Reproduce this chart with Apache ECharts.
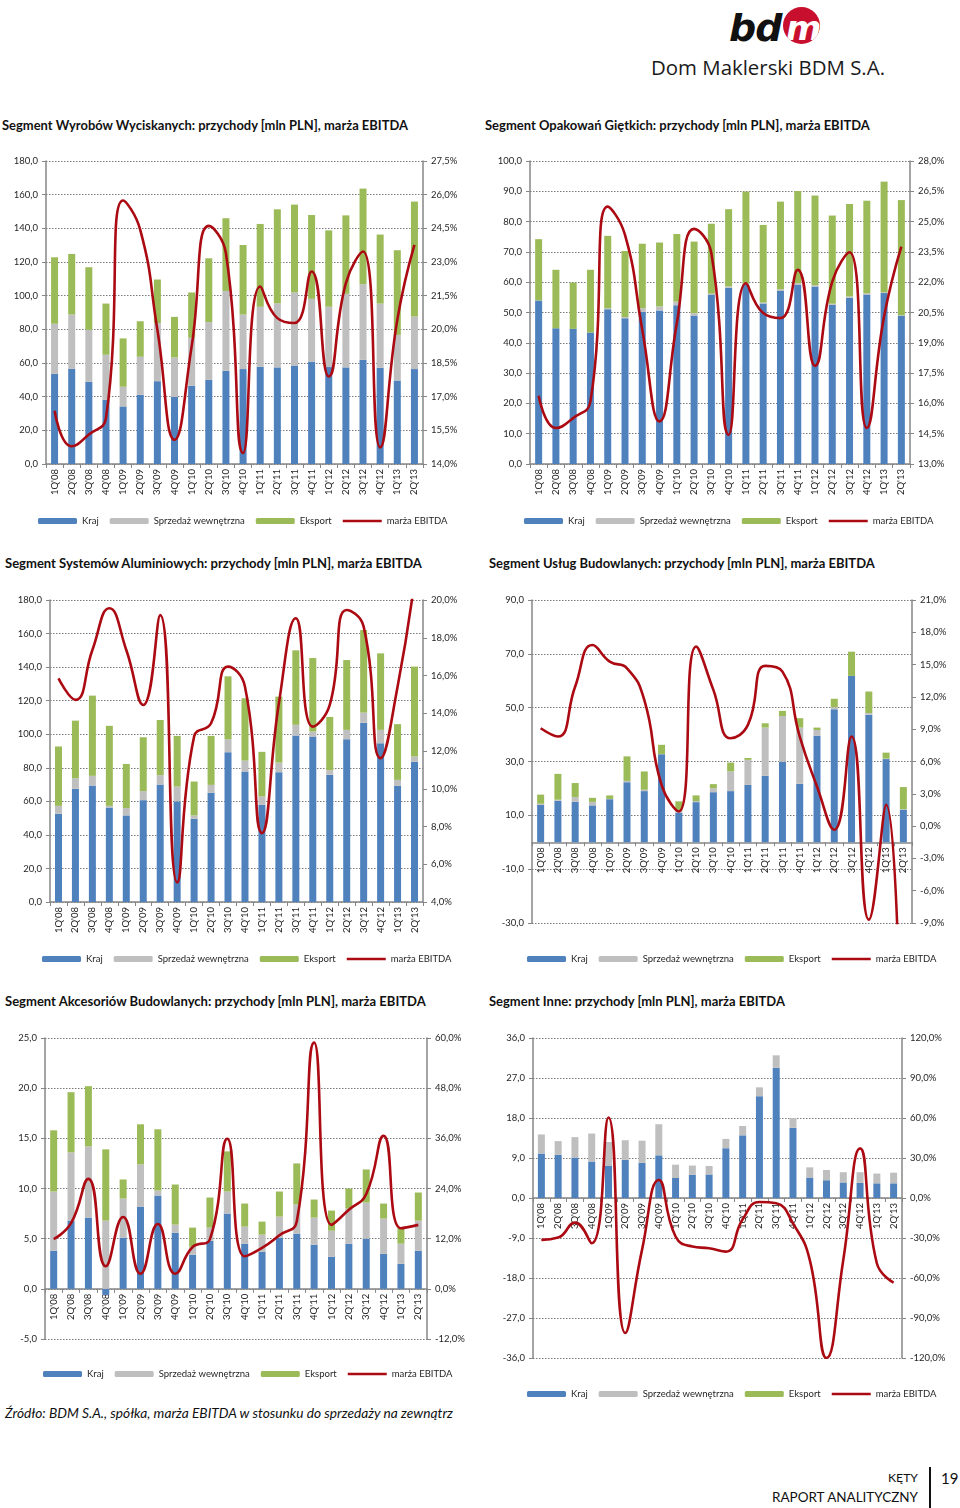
<!DOCTYPE html>
<html lang="pl"><head><meta charset="utf-8">
<title>BDM – segmenty</title>
<script src="https://cdn.jsdelivr.net/npm/echarts@6.0.0/dist/echarts.min.js"></script>
<style>
html,body{margin:0;padding:0;background:#fff;}
body{width:960px;height:1508px;position:relative;overflow:hidden;font-family:Lato,'Open Sans',sans-serif;color:#111;}
.abs{position:absolute;white-space:nowrap;}
.title{font-weight:bold;font-size:13px;line-height:16px;color:#111;}
.chart{position:absolute;}
</style></head><body>

<div class="abs" id="logoBD" style="left:729px;top:6px;font:italic bold 38px 'DejaVu Sans',sans-serif;line-height:44px;color:#111;letter-spacing:-1px">bd</div>
<div class="abs" style="left:783px;top:7px;width:37px;height:37px;border-radius:50%;background:#c8102e;overflow:hidden">
  <div class="abs" style="left:3px;top:3px;font:italic bold 34px 'DejaVu Sans',sans-serif;line-height:36px;color:#fff">m</div>
</div>
<div class="abs fit" data-w="234" style="left:651px;top:55px;font-size:21px;line-height:24px;color:#1a1a1a;font-family:'Open Sans',sans-serif">Dom Maklerski BDM S.A.</div>

<div class="abs title fit" data-w="406" style="left:2px;top:117px">Segment Wyrobów Wyciskanych: przychody [mln PLN], marża EBITDA</div>
<div class="abs title fit" data-w="385" style="left:485px;top:117px">Segment Opakowań Giętkich: przychody [mln PLN], marża EBITDA</div>
<div class="abs title fit" data-w="417" style="left:5px;top:555px">Segment Systemów Aluminiowych: przychody [mln PLN], marża EBITDA</div>
<div class="abs title fit" data-w="386" style="left:489px;top:555px">Segment Usług Budowlanych: przychody [mln PLN], marża EBITDA</div>
<div class="abs title fit" data-w="421" style="left:5px;top:993px">Segment Akcesoriów Budowlanych: przychody [mln PLN], marża EBITDA</div>
<div class="abs title fit" data-w="296" style="left:489px;top:993px">Segment Inne: przychody [mln PLN], marża EBITDA</div>

<div class="chart" id="c1" style="left:0px;top:150px;width:480px;height:385px"></div>
<div class="chart" id="c2" style="left:480px;top:150px;width:480px;height:385px"></div>
<div class="chart" id="c3" style="left:0px;top:590px;width:480px;height:385px"></div>
<div class="chart" id="c4" style="left:480px;top:590px;width:480px;height:385px"></div>
<div class="chart" id="c5" style="left:0px;top:1030px;width:480px;height:360px"></div>
<div class="chart" id="c6" style="left:480px;top:1030px;width:480px;height:380px"></div>

<div class="abs fit" data-w="448" style="left:5px;top:1405px;font-style:italic;font-size:13px;line-height:16px;color:#111">Źródło: BDM S.A., spółka, marża EBITDA w stosunku do sprzedaży na zewnątrz</div>

<div class="abs fitr" data-w="30" data-r="918" style="top:1469px;font-size:15px;line-height:18px;color:#111">KĘTY</div>
<div class="abs fitr" data-w="146" data-r="918" style="top:1488px;font-size:15px;line-height:18px;color:#111">RAPORT ANALITYCZNY</div>
<div class="abs" style="left:929px;top:1467px;width:1.5px;height:41px;background:#111"></div>
<div class="abs" style="left:941px;top:1469px;font-size:15px;line-height:18px;color:#111">19</div>

<script>
// ---------- DATA ----------
const categories = ["1Q'08","2Q'08","3Q'08","4Q'08","1Q'09","2Q'09","3Q'09","4Q'09","1Q'10","2Q'10","3Q'10","4Q'10","1Q'11","2Q'11","3Q'11","4Q'11","1Q'12","2Q'12","3Q'12","4Q'12","1Q'13","2Q'13"];
const legendNames = ["Kraj","Sprzedaż wewnętrzna","Eksport","marża EBITDA"];

// Segment Wyrobów Wyciskanych
const p1Kraj  = [53.6,56.6,48.9,38.2,34.2,41.1,49.2,39.8,46.5,50.0,55.4,56.4,57.8,57.4,58.5,60.7,57.6,57.4,61.9,57.2,49.6,56.4];
const p1Wew   = [29.7,32.2,30.8,26.7,11.7,22.6,34.5,23.5,28.5,34.3,47.4,32.4,35.6,38.1,43.4,37.4,35.8,43.7,44.9,38.1,27.1,31.2];
const p1Eks   = [39.5,36.0,37.2,30.4,28.7,21.1,25.9,24.1,26.9,37.9,43.2,41.3,49.2,55.8,52.2,49.8,45.4,46.6,56.8,41.0,50.3,68.3];
const p1Marza = [16.37,14.79,15.31,16.05,25.74,24.43,19.98,15.08,19.24,24.61,23.39,14.49,21.91,20.50,20.28,22.58,17.90,22.06,23.47,14.74,20.42,23.76];

// Segment Opakowań Giętkich
const p2Kraj  = [54.0,44.8,44.6,43.4,51.1,48.1,50.2,50.7,52.4,49.0,55.9,58.2,59.1,53.0,57.1,59.1,58.6,52.5,54.9,55.9,56.4,48.9];
const p2Wew   = [0.0,0.0,0.0,0.0,0.3,0.4,1.2,1.3,1.2,0.8,0.3,0.4,0.6,0.3,0.6,0.6,0.4,0.4,0.4,0.4,0.3,0.2];
const p2Eks   = [20.2,19.3,15.3,20.7,23.9,21.8,21.3,21.1,22.3,23.6,23.1,25.5,30.2,25.6,28.9,30.4,29.6,29.1,30.5,30.6,36.5,38.0];
const p2Marza = [16.38,14.78,15.27,16.10,25.74,24.34,19.64,15.11,19.97,24.64,23.43,14.45,21.95,20.47,20.22,22.61,17.86,22.03,23.48,14.78,20.30,23.76];

// Segment Systemów Aluminiowych
const p3Kraj  = [52.6,67.5,69.4,56.3,51.6,60.7,70.0,60.0,49.6,65.1,89.3,77.8,57.9,77.4,99.2,98.6,75.8,97.0,106.9,94.6,69.2,83.5];
const p3Wew   = [4.7,6.3,5.8,1.0,4.4,5.4,5.6,8.8,2.0,4.7,7.7,6.5,5.0,5.7,6.4,3.0,2.8,5.6,6.0,8.0,3.6,3.2];
const p3Eks   = [35.4,34.3,47.8,47.7,26.3,32.1,32.9,30.2,20.2,29.2,37.5,37.1,26.6,39.3,44.4,43.8,31.7,41.6,49.2,45.6,33.2,53.6];
const p3Marza = [15.85,14.71,17.35,19.56,17.35,14.44,19.20,5.04,12.77,13.47,16.47,15.41,7.65,14.53,19.03,13.29,14.44,19.47,18.59,11.62,15.41,21.0];

// Segment Usług Budowlanych
const p4Kraj  = [13.9,15.4,15.0,13.7,16.0,22.3,19.0,32.7,11.0,14.9,18.6,19.0,21.3,24.7,29.9,21.7,39.6,49.4,61.8,47.4,30.9,12.1];
const p4Wew   = [0.4,0.4,1.8,1.3,0.1,0.5,0.5,0.1,0.8,0.4,1.5,7.3,9.3,17.9,17.0,20.9,2.1,0.8,0.0,0.6,0.2,0.2];
const p4Eks   = [3.4,9.6,5.2,1.5,1.3,9.1,6.8,3.4,3.4,2.1,1.5,3.3,0.7,1.6,1.9,3.5,0.9,3.1,9.0,8.0,2.2,8.2];
const p4Marza = [9.09,8.32,12.96,16.82,15.28,14.66,11.72,3.83,1.36,16.67,12.65,8.16,9.40,14.88,14.35,8.32,3.68,-0.34,8.32,-8.69,1.98,-35.0];

// Segment Akcesoriów Budowlanych
const p5Kraj  = [3.8,6.8,7.1,-0.6,5.1,8.2,9.3,5.6,3.4,4.8,7.5,4.5,3.7,5.1,5.5,4.4,3.2,4.5,5.0,3.5,2.5,3.8];
const p5Wew   = [5.9,6.8,7.1,6.8,3.9,4.2,0.5,0.8,0.8,1.3,2.2,1.7,1.7,2.1,2.9,2.7,2.6,3.5,3.6,3.5,2.0,3.0];
const p5Eks   = [6.1,6.0,6.0,7.1,1.9,4.0,6.1,4.0,1.9,3.0,4.0,2.3,1.3,2.5,4.1,1.8,2.0,2.0,3.3,1.5,1.6,2.8];
const p5Marza = [11.9,15.7,26.3,5.4,17.2,3.6,15.5,3.6,10.0,11.9,35.9,7.8,9.8,12.8,16.1,58.9,15.3,18.9,22.7,36.6,14.5,15.3];

// Segment Inne
const p6Kraj  = [10.0,9.7,9.1,8.2,7.2,8.6,7.9,9.6,4.5,5.2,5.3,11.2,14.1,22.9,29.3,15.8,4.6,4.0,3.5,3.4,3.3,3.3];
const p6Wew   = [4.3,3.1,4.6,6.3,5.4,4.4,5.0,7.0,3.0,2.1,1.9,2.1,2.1,2.0,2.8,2.2,2.3,2.3,2.3,2.4,2.2,2.4];
const p6Eks   = [0,0,0,0,0,0,0,0,0,0,0,0,0,0,0,0,0,0,0,0,0,0];
const p6Marza = [-31.4,-29.7,-18.5,-33.9,60.4,-101.3,-38.9,13.5,-28.9,-36.4,-37.7,-40.2,-16.0,-3.0,-4.0,-19.0,-46.4,-120.0,-46.4,37.2,-48.9,-63.4];

// ---------- TEXT FITTING ----------
document.querySelectorAll('.fit').forEach(el => {
  const w = +el.dataset.w, cur = el.getBoundingClientRect().width;
  const fs = parseFloat(getComputedStyle(el).fontSize);
  el.style.fontSize = (fs * w / cur).toFixed(2) + 'px';
});
document.querySelectorAll('.fitr').forEach(el => {
  const w = +el.dataset.w, cur = el.getBoundingClientRect().width;
  const fs = parseFloat(getComputedStyle(el).fontSize);
  el.style.fontSize = (fs * w / cur).toFixed(2) + 'px';
  const nw = el.getBoundingClientRect().width;
  el.style.left = (+el.dataset.r - nw) + 'px';
});

// ---------- CHARTS ----------
const FONT = 'Lato, "Open Sans", sans-serif';
const AXIS = '#868686';
const C_KRAJ = '#4f81bd', C_WEW = '#bfbfbf', C_EKS = '#9bbb59', C_LINE = '#ab0a12';
const fmt1 = v => v.toFixed(1).replace('.', ',');
// thin line legend icon (bbox 39x6, visible stroke ~2.4px in the middle)
const LINE_ICON = 'path://M0,0L0.01,0M0,1.8L39,1.8L39,4.2L0,4.2ZM38.99,6L39,6';

function makePanel(cfg) {
  const el = document.getElementById(cfg.id);
  const chart = echarts.init(el, null, {renderer: 'canvas'});
  const H = el.clientHeight;
  const gridH = H - cfg.grid[1] - cfg.grid[3];
  const lmin = cfg.left[0], lmax = cfg.left[1];
  const xOffset = lmin < 0 ? -gridH * (0 - lmin) / (lmax - lmin) : 0;
  const lab = {fontFamily: FONT, fontSize: 9.5, color: '#262626'};
  const yBase = (ax, right) => ({
    type: 'value', position: right ? 'right' : 'left',
    min: ax[0], max: ax[1], interval: ax[2],
    axisLine: {show: true, onZero: false, lineStyle: {color: AXIS, width: 1.5}},
    axisTick: {show: true, length: 4, lineStyle: {color: AXIS, width: 1}},
    axisLabel: Object.assign({}, lab, {margin: 8, formatter: right ? (v => fmt1(v) + '%') : fmt1}),
    splitLine: right ? {show: false} : {show: true, lineStyle: {color: '#7a7a7a', width: 1, type: [1.5, 1.5]}}
  });
  chart.setOption({
    animation: false,
    textStyle: {fontFamily: FONT},
    grid: {left: cfg.grid[0], top: cfg.grid[1], right: cfg.grid[2], bottom: cfg.grid[3], containLabel: false, outerBoundsMode: 'none'},
    legend: {
      left: cfg.legend[0], top: cfg.legend[1], orient: 'horizontal', padding: 0,
      itemWidth: 39, itemHeight: 6, itemGap: 11, selectedMode: false,
      textStyle: Object.assign({}, lab, {fontSize: 9.5}),
      data: [legendNames[0], legendNames[1], legendNames[2], {name: legendNames[3], icon: LINE_ICON}]
    },
    xAxis: {
      type: 'category', data: categories, boundaryGap: true, position: 'bottom', offset: xOffset,
      axisLine: {show: true, onZero: false, lineStyle: {color: AXIS, width: 1.5}},
      axisTick: {show: true, length: 4, alignWithLabel: false, lineStyle: {color: AXIS}},
      axisLabel: Object.assign({}, lab, {rotate: 90, interval: 0, margin: 5, fontSize: 9.5}),
      splitLine: {show: false}
    },
    yAxis: [yBase(cfg.left, false), yBase(cfg.right, true)],
    series: [
      {name: legendNames[0], type: 'bar', stack: 's', data: cfg.kraj, barWidth: 7, itemStyle: {color: C_KRAJ}},
      {name: legendNames[1], type: 'bar', stack: 's', data: cfg.wew, barWidth: 7, itemStyle: {color: C_WEW}},
      {name: legendNames[2], type: 'bar', stack: 's', data: cfg.eks, barWidth: 7, itemStyle: {color: C_EKS}},
      {name: legendNames[3], type: 'line', yAxisIndex: 1, data: cfg.marza, smooth: 0.5, symbol: 'none',
       clip: true, z: 5, lineStyle: {color: C_LINE, width: 2.6}, itemStyle: {color: C_LINE}}
    ]
  });
}

makePanel({id: 'c1', grid: [46, 11, 57, 71], legend: [38, 366], left: [0, 180, 20], right: [14, 27.5, 1.5],
  kraj: p1Kraj, wew: p1Wew, eks: p1Eks, marza: p1Marza});
makePanel({id: 'c2', grid: [50, 11, 50, 71], legend: [44, 366], left: [0, 100, 10], right: [13, 28, 1.5],
  kraj: p2Kraj, wew: p2Wew, eks: p2Eks, marza: p2Marza});
makePanel({id: 'c3', grid: [50, 10, 57, 73], legend: [42, 364], left: [0, 180, 20], right: [4, 20, 2],
  kraj: p3Kraj, wew: p3Wew, eks: p3Eks, marza: p3Marza});
makePanel({id: 'c4', grid: [52, 10, 48, 52], legend: [47, 364], left: [-30, 90, 20], right: [-9, 21, 3],
  kraj: p4Kraj, wew: p4Wew, eks: p4Eks, marza: p4Marza});
makePanel({id: 'c5', grid: [45, 8, 53, 51], legend: [43, 339], left: [-5, 25, 5], right: [-12, 60, 12],
  kraj: p5Kraj, wew: p5Wew, eks: p5Eks, marza: p5Marza});
makePanel({id: 'c6', grid: [53, 8, 58, 52], legend: [47, 359], left: [-36, 36, 9], right: [-120, 120, 30],
  kraj: p6Kraj, wew: p6Wew, eks: p6Eks, marza: p6Marza});
</script>
</body></html>
